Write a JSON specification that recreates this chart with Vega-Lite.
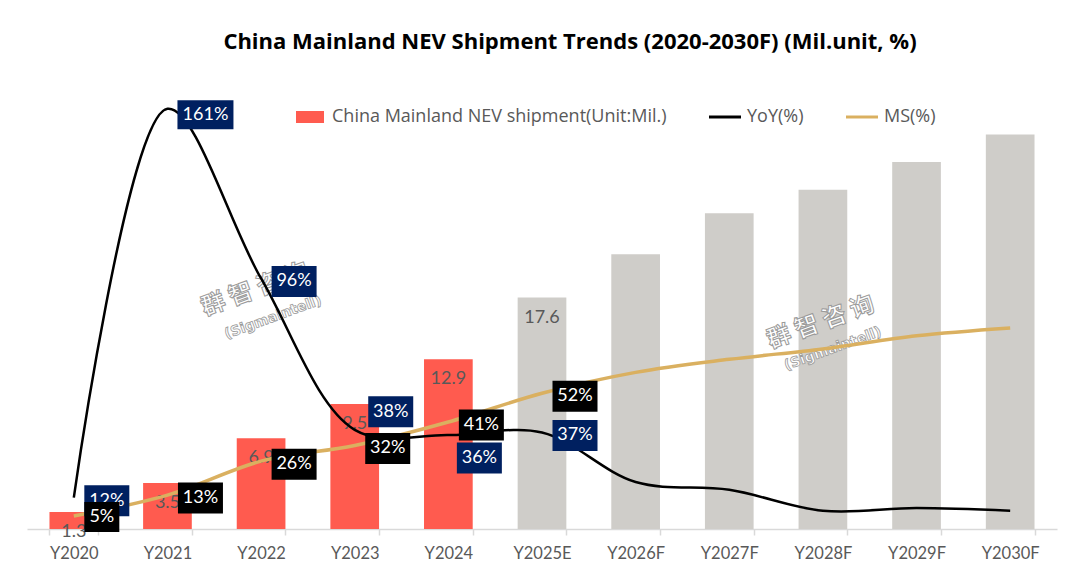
{
  "$schema": "https://vega.github.io/schema/vega-lite/v6.json",
  "width": 1030,
  "height": 439,
  "autosize": {"type": "none"},
  "padding": {"left": 27, "top": 90, "right": 23, "bottom": 58},
  "background": "white",
  "config": {"view": {"stroke": null}, "font": "Lato"},
  "title": {
    "text": "China Mainland NEV Shipment Trends (2020-2030F) (Mil.unit, %)",
    "font": "Open Sans", "fontSize": 22, "fontWeight": "bold", "color": "#000000",
    "anchor": "middle", "frame": "group", "dx": 28, "offset": 36
  },
  "data": {
    "values": [
      {"year": "Y2020", "shipment": 1.3, "yoy": 0.12, "ms": 0.05},
      {"year": "Y2021", "shipment": 3.5, "yoy": 1.61, "ms": 0.13},
      {"year": "Y2022", "shipment": 6.9, "yoy": 0.96, "ms": 0.26},
      {"year": "Y2023", "shipment": 9.5, "yoy": 0.38, "ms": 0.32},
      {"year": "Y2024", "shipment": 12.9, "yoy": 0.36, "ms": 0.41},
      {"year": "Y2025E", "shipment": 17.6, "yoy": 0.37, "ms": 0.52},
      {"year": "Y2026F", "shipment": 20.9, "yoy": 0.18, "ms": 0.60},
      {"year": "Y2027F", "shipment": 24.0, "yoy": 0.15, "ms": 0.65},
      {"year": "Y2028F", "shipment": 25.8, "yoy": 0.07, "ms": 0.69},
      {"year": "Y2029F", "shipment": 27.9, "yoy": 0.08, "ms": 0.74},
      {"year": "Y2030F", "shipment": 30.0, "yoy": 0.07, "ms": 0.77}
    ]
  },
  "encoding": {
    "x": {
      "field": "year", "type": "nominal", "sort": null,
      "scale": {
        "domain": ["Y2020", "Y2021", "Y2022", "Y2023", "Y2024", "Y2025E", "Y2026F", "Y2027F", "Y2028F", "Y2029F", "Y2030F"],
        "paddingInner": 0.48, "paddingOuter": 0.24
      },
      "axis": {
        "title": null, "labelAngle": 0, "labelFont": "Lato", "labelFontSize": 16.5,
        "labelColor": "#595959", "domainColor": "#D9D9D9", "domainWidth": 1.5,
        "tickColor": "#D9D9D9", "tickWidth": 1.5, "tickBand": "extent", "tickSize": 6,
        "labelPadding": 10, "grid": false
      }
    }
  },
  "layer": [
    {
      "mark": {"type": "bar"},
      "encoding": {
        "y": {"field": "shipment", "type": "quantitative", "scale": {"domain": [0, 33.38], "nice": false}, "axis": null},
        "color": {
          "condition": {"test": "test(/[EF]$/, datum.year)", "value": "#CFCDC9"},
          "datum": "China Mainland NEV shipment(Unit:Mil.)",
          "type": "nominal",
          "scale": {
            "domain": ["China Mainland NEV shipment(Unit:Mil.)", "YoY(%)", "MS(%)"],
            "range": ["#FF5B4F", "#000000", "#DAB060"]
          },
          "legend": {
            "title": null, "orient": "none", "direction": "horizontal",
            "legendX": 274, "legendY": 18,
            "labelFont": "Open Sans", "labelFontSize": 18, "labelColor": "#595959", "labelLimit": 0,
            "labelOffset": 13, "columnPadding": 36,
            "symbolSize": 1024, "symbolStrokeWidth": 3, "symbolType": "stroke",
            "encode": {
              "symbols": {
                "update": {
                  "shape": {"signal": "datum.value === 'China Mainland NEV shipment(Unit:Mil.)' ? 'M-0.875,-0.375H0.875V0.375H-0.875Z' : 'stroke'"},
                  "fill": {"signal": "datum.value === 'China Mainland NEV shipment(Unit:Mil.)' ? '#FF5B4F' : 'transparent'"},
                  "stroke": {"signal": "scale('color', datum.value)"},
                  "strokeWidth": {"signal": "datum.value === 'China Mainland NEV shipment(Unit:Mil.)' ? 0 : 3"},
                  "opacity": {"value": 1}
                }
              }
            }
          }
        }
      }
    },
    {
      "transform": [{"filter": {"field": "year", "oneOf": ["Y2020", "Y2021", "Y2022", "Y2023", "Y2024", "Y2025E"]}}],
      "mark": {"type": "text", "dy": 20, "color": "#595959", "fontSize": 18, "font": "Lato", "baseline": "middle", "align": "center"},
      "encoding": {
        "y": {"field": "shipment", "type": "quantitative", "scale": {"domain": [0, 33.38], "nice": false}, "axis": null},
        "text": {"field": "shipment", "type": "quantitative", "format": ".1f"}
      }
    },
    {
      "data": {"values": [{}]},
      "mark": {"type": "text", "text": "群 智 咨 询", "font": "Noto Sans CJK SC", "fontWeight": "bold", "fontSize": 24, "angle": -20, "fill": "white", "stroke": "#9A9A9A", "strokeWidth": 1, "xOffset": -6, "baseline": "middle", "align": "center"},
      "encoding": {
        "x": {"datum": "Y2022"},
        "y": {"datum": 0.916, "type": "quantitative", "scale": {"domain": [0, 1.682], "nice": false}, "axis": null}
      }
    },
    {
      "data": {"values": [{}]},
      "mark": {"type": "text", "text": "(Sigmaintell)", "font": "DejaVu Sans", "fontWeight": "bold", "fontSize": 14, "angle": -20, "fill": "white", "stroke": "#9A9A9A", "strokeWidth": 0.8, "xOffset": 12, "baseline": "middle", "align": "center"},
      "encoding": {
        "x": {"datum": "Y2022"},
        "y": {"datum": 0.81, "type": "quantitative", "scale": {"domain": [0, 1.682], "nice": false}, "axis": null}
      }
    },
    {
      "data": {"values": [{}]},
      "mark": {"type": "text", "text": "群 智 咨 询", "font": "Noto Sans CJK SC", "fontWeight": "bold", "fontSize": 24, "angle": -20, "fill": "white", "stroke": "#9A9A9A", "strokeWidth": 1, "xOffset": -2, "baseline": "middle", "align": "center"},
      "encoding": {
        "x": {"datum": "Y2028F"},
        "y": {"datum": 0.79, "type": "quantitative", "scale": {"domain": [0, 1.682], "nice": false}, "axis": null}
      }
    },
    {
      "data": {"values": [{}]},
      "mark": {"type": "text", "text": "(Sigmaintell)", "font": "DejaVu Sans", "fontWeight": "bold", "fontSize": 14, "angle": -20, "fill": "white", "stroke": "#9A9A9A", "strokeWidth": 0.8, "xOffset": 10, "baseline": "middle", "align": "center"},
      "encoding": {
        "x": {"datum": "Y2028F"},
        "y": {"datum": 0.69, "type": "quantitative", "scale": {"domain": [0, 1.682], "nice": false}, "axis": null}
      }
    },
    {
      "mark": {"type": "line", "interpolate": "catmull-rom", "strokeWidth": 2.5},
      "encoding": {
        "y": {"field": "yoy", "type": "quantitative", "scale": {"domain": [0, 1.682], "nice": false}, "axis": null},
        "color": {"datum": "YoY(%)"}
      }
    },
    {
      "mark": {"type": "line", "interpolate": "monotone", "strokeWidth": 3.5},
      "encoding": {
        "y": {"field": "ms", "type": "quantitative", "scale": {"domain": [0, 1.682], "nice": false}, "axis": null},
        "color": {"datum": "MS(%)"}
      }
    },
    {
      "transform": [{"filter": {"field": "year", "oneOf": ["Y2020", "Y2022", "Y2025E"]}}],
      "mark": {"type": "point", "filled": true, "shape": "M-1,-0.689H1V0.689H-1Z", "size": 2025, "color": "#002060", "opacity": 1, "strokeWidth": 0, "xOffset": 33, "yOffset": 3},
      "encoding": {"y": {"field": "yoy", "type": "quantitative", "scale": {"domain": [0, 1.682], "nice": false}, "axis": null}}
    },
    {
      "transform": [{"filter": {"field": "year", "oneOf": ["Y2020", "Y2022", "Y2025E"]}}],
      "mark": {"type": "text", "color": "white", "fontSize": 18, "font": "Lato", "xOffset": 33, "yOffset": 3, "baseline": "middle", "align": "center"},
      "encoding": {
        "y": {"field": "yoy", "type": "quantitative", "scale": {"domain": [0, 1.682], "nice": false}, "axis": null},
        "text": {"field": "yoy", "type": "quantitative", "format": ".0%"}
      }
    },
    {
      "transform": [{"filter": {"field": "year", "equal": "Y2021"}}],
      "mark": {"type": "point", "filled": true, "shape": "M-1,-0.52H1V0.52H-1Z", "size": 3136, "color": "#002060", "opacity": 1, "strokeWidth": 0, "xOffset": 38, "yOffset": 6},
      "encoding": {"y": {"field": "yoy", "type": "quantitative", "scale": {"domain": [0, 1.682], "nice": false}, "axis": null}}
    },
    {
      "transform": [{"filter": {"field": "year", "equal": "Y2021"}}],
      "mark": {"type": "text", "color": "white", "fontSize": 18, "font": "Lato", "xOffset": 38, "yOffset": 6, "baseline": "middle", "align": "center"},
      "encoding": {
        "y": {"field": "yoy", "type": "quantitative", "scale": {"domain": [0, 1.682], "nice": false}, "axis": null},
        "text": {"field": "yoy", "type": "quantitative", "format": ".0%"}
      }
    },
    {
      "transform": [{"filter": {"field": "year", "equal": "Y2023"}}],
      "mark": {"type": "point", "filled": true, "shape": "M-1,-0.689H1V0.689H-1Z", "size": 2025, "color": "#002060", "opacity": 1, "strokeWidth": 0, "xOffset": 36, "yOffset": -18},
      "encoding": {"y": {"field": "yoy", "type": "quantitative", "scale": {"domain": [0, 1.682], "nice": false}, "axis": null}}
    },
    {
      "transform": [{"filter": {"field": "year", "equal": "Y2023"}}],
      "mark": {"type": "text", "color": "white", "fontSize": 18, "font": "Lato", "xOffset": 36, "yOffset": -18, "baseline": "middle", "align": "center"},
      "encoding": {
        "y": {"field": "yoy", "type": "quantitative", "scale": {"domain": [0, 1.682], "nice": false}, "axis": null},
        "text": {"field": "yoy", "type": "quantitative", "format": ".0%"}
      }
    },
    {
      "transform": [{"filter": {"field": "year", "equal": "Y2024"}}],
      "mark": {"type": "point", "filled": true, "shape": "M-1,-0.689H1V0.689H-1Z", "size": 2025, "color": "#002060", "opacity": 1, "strokeWidth": 0, "xOffset": 31, "yOffset": 23},
      "encoding": {"y": {"field": "yoy", "type": "quantitative", "scale": {"domain": [0, 1.682], "nice": false}, "axis": null}}
    },
    {
      "transform": [{"filter": {"field": "year", "equal": "Y2024"}}],
      "mark": {"type": "text", "color": "white", "fontSize": 18, "font": "Lato", "xOffset": 31, "yOffset": 23, "baseline": "middle", "align": "center"},
      "encoding": {
        "y": {"field": "yoy", "type": "quantitative", "scale": {"domain": [0, 1.682], "nice": false}, "axis": null},
        "text": {"field": "yoy", "type": "quantitative", "format": ".0%"}
      }
    },
    {
      "transform": [{"filter": {"field": "year", "oneOf": ["Y2021", "Y2022", "Y2023", "Y2024", "Y2025E"]}}],
      "mark": {"type": "point", "filled": true, "shape": "M-1,-0.689H1V0.689H-1Z", "size": 2025, "color": "#000000", "opacity": 1, "strokeWidth": 0, "xOffset": 33, "yOffset": 3},
      "encoding": {"y": {"field": "ms", "type": "quantitative", "scale": {"domain": [0, 1.682], "nice": false}, "axis": null}}
    },
    {
      "transform": [{"filter": {"field": "year", "oneOf": ["Y2021", "Y2022", "Y2023", "Y2024", "Y2025E"]}}],
      "mark": {"type": "text", "color": "white", "fontSize": 18, "font": "Lato", "xOffset": 33, "yOffset": 3, "baseline": "middle", "align": "center"},
      "encoding": {
        "y": {"field": "ms", "type": "quantitative", "scale": {"domain": [0, 1.682], "nice": false}, "axis": null},
        "text": {"field": "ms", "type": "quantitative", "format": ".0%"}
      }
    },
    {
      "transform": [{"filter": {"field": "year", "equal": "Y2020"}}],
      "mark": {"type": "point", "filled": true, "shape": "M-1,-0.857H1V0.857H-1Z", "size": 1225, "color": "#000000", "opacity": 1, "strokeWidth": 0, "xOffset": 28, "yOffset": 1},
      "encoding": {"y": {"field": "ms", "type": "quantitative", "scale": {"domain": [0, 1.682], "nice": false}, "axis": null}}
    },
    {
      "transform": [{"filter": {"field": "year", "equal": "Y2020"}}],
      "mark": {"type": "text", "color": "white", "fontSize": 18, "font": "Lato", "xOffset": 28, "yOffset": 1, "baseline": "middle", "align": "center"},
      "encoding": {
        "y": {"field": "ms", "type": "quantitative", "scale": {"domain": [0, 1.682], "nice": false}, "axis": null},
        "text": {"field": "ms", "type": "quantitative", "format": ".0%"}
      }
    }
  ],
  "resolve": {"scale": {"y": "independent"}}
}
